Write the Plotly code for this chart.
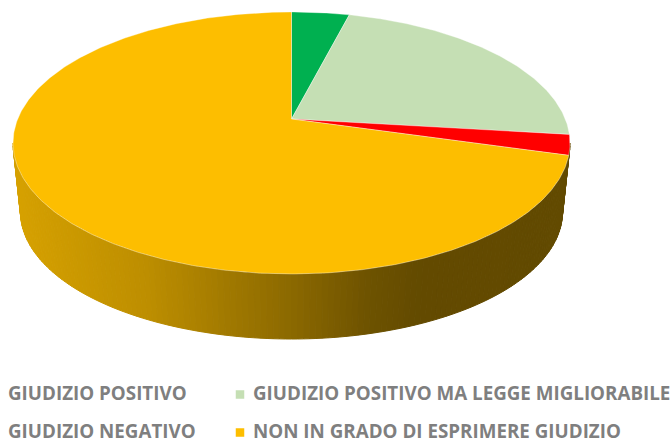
import numpy as np
import plotly.graph_objects as go

categories = ["GIUDIZIO POSITIVO", "GIUDIZIO POSITIVO MA LEGGE MIGLIORABILE",
              "GIUDIZIO NEGATIVO", "NON IN GRADO DI ESPRIMERE GIUDIZIO"]
values = [4.0, 22.9, 2.5, 70.6]
colors = ["#00B050", "#C5DFB4", "#FF0000", "#FDBE00"]

# projection of the tilted disc into plot coordinates
CX, APEX_Y = 291.5, 119.0
TILT = 0.183
A, B = 273.8, 126.6
TOP_C, TOP_RX, TOP_RY = 143.0, 278.5, 131.0
BOT_C, BOT_RX, BOT_RY = 212.0, 271.0, 127.0


def project(theta):
    u, v = np.sin(theta), np.cos(theta)
    w = 1 + TILT * v
    return CX + A * u / w, APEX_Y - B * v / w


fig = go.Figure()

# side wall of the large slice, shaded by horizontal position
shade_x = [0, 20, 150, 290, 370, 420, 672]
shade_k = [0.85, 0.84, 0.74, 0.55, 0.43, 0.39, 0.385]
base = np.array([255, 192, 0])
edges = np.linspace(np.pi, 0, 141)
for t1, t2 in zip(edges[:-1], edges[1:]):
    ts = np.linspace(t1, t2, 3)
    xt = CX + TOP_RX * np.cos(ts)
    yt = TOP_C + TOP_RY * np.sin(ts)
    xb = CX + BOT_RX * np.cos(ts[::-1])
    yb = BOT_C + BOT_RY * np.sin(ts[::-1])
    k = np.interp((xt.mean() + xb.mean()) / 2, shade_x, shade_k)
    r, g, b = (base * k).astype(int)
    col = f"rgb({r},{g},{b})"
    fig.add_trace(go.Scatter(
        x=np.r_[xt, xb, xt[0]], y=np.r_[yt, yb, yt[0]], mode="lines", fill="toself",
        fillcolor=col, line=dict(color=col, width=1), hoverinfo="skip", showlegend=False))

# top face slices
total = sum(values)
start = 0.0
for name, val, col in zip(categories, values, colors):
    end = start + val / total * 2 * np.pi
    th = np.linspace(start, end, max(int(val * 6), 8))
    xs, ys = project(th)
    fig.add_trace(go.Scatter(
        x=np.r_[CX, xs, CX], y=np.r_[APEX_Y, ys, APEX_Y], mode="lines", fill="toself",
        fillcolor=col, line=dict(color="rgba(255,255,255,0.45)", width=0.8),
        name=name, hoverinfo="name", showlegend=False))
    start = end

# legend
legend_x = [-10, 240, -10, 240]
legend_y = [394.5, 394.5, 432.5, 432.5]
text_x = [5.5, 251, 5.5, 251]
text_y = [393, 393, 431, 431]
fig.add_trace(go.Scatter(
    x=legend_x, y=legend_y, mode="markers",
    marker=dict(symbol="square", size=8.5, color=colors, line=dict(width=0)),
    hoverinfo="skip", showlegend=False))
for name, x, y in zip(categories, text_x, text_y):
    fig.add_annotation(x=x, y=y, text=f"<b>{name}</b>", showarrow=False, xanchor="left",
                       yanchor="middle", font=dict(family="Open Sans", size=18.8, color="#7F7F7F"))

fig.update_layout(
    width=672, height=440, margin=dict(l=0, r=0, t=0, b=0),
    paper_bgcolor="white", plot_bgcolor="white", showlegend=False,
    xaxis=dict(range=[0, 672], visible=False, fixedrange=True),
    yaxis=dict(range=[440, 0], visible=False, fixedrange=True),
)
fig.write_html("out.html", config=dict(displayModeBar=False),
               post_script="document.body.style.margin='0';document.documentElement.style.overflow='hidden';")
